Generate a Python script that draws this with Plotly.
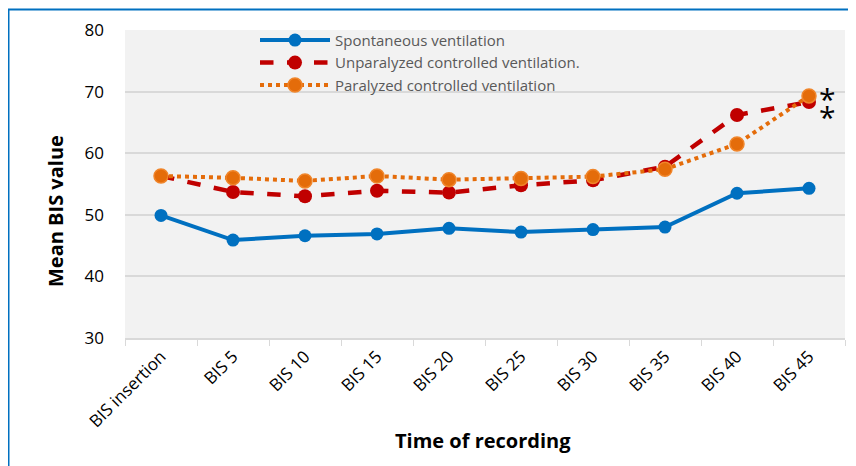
import plotly.graph_objects as go

categories = ["BIS insertion", "BIS 5", "BIS 10", "BIS 15", "BIS 20", "BIS 25",
              "BIS 30", "BIS 35", "BIS 40", "BIS 45"]
spontaneous = [49.9, 45.9, 46.6, 46.9, 47.8, 47.2, 47.6, 48.0, 53.5, 54.3]
unparalyzed = [56.3, 53.7, 53.0, 53.9, 53.6, 54.8, 55.6, 57.8, 66.2, 68.3]
paralyzed = [56.3, 56.0, 55.5, 56.3, 55.7, 55.9, 56.2, 57.4, 61.5, 69.3]
y_ticks = [30, 40, 50, 60, 70, 80]

FONT = "Open Sans"

# page body has an 8px margin: figure is placed at (8, 8)
W, H = 848, 458
L, T, PW, PH = 117, 22, 720, 308

fig = go.Figure()
fig.add_trace(go.Scatter(
    x=categories, y=spontaneous, name="Spontaneous ventilation",
    mode="lines+markers",
    line=dict(color="#0070C0", width=4),
    marker=dict(symbol="circle", size=13, color="#0070C0"),
))
fig.add_trace(go.Scatter(
    x=categories, y=unparalyzed, name="Unparalyzed controlled ventilation.",
    mode="lines+markers",
    line=dict(color="#C00000", width=4.5, dash="dash"),
    marker=dict(symbol="circle", size=14, color="#C00000"),
))
fig.add_trace(go.Scatter(
    x=categories, y=paralyzed, name="Paralyzed controlled ventilation",
    mode="lines+markers",
    line=dict(color="#E46C0A", width=4, dash="dot"),
    marker=dict(symbol="circle", size=14, color="#E46C0A",
                line=dict(color="#F0852A", width=1.5)),
))

for dy in (-18, 0):
    fig.add_annotation(x="BIS 45", y=68.8, xref="x", yref="y", text="*",
                       showarrow=False, xshift=18, yshift=dy,
                       font=dict(family=FONT, size=30, color="#000000"))

# axis titles
fig.add_annotation(xref="paper", yref="paper", x=(47 - L) / PW,
                   y=1 - (203 - T) / PH, xanchor="center", yanchor="middle",
                   text="<b>Mean BIS value</b>",
                   textangle=-90, showarrow=False,
                   font=dict(family=FONT, size=20, color="#000000"))
fig.add_annotation(xref="paper", yref="paper", x=(475 - L) / PW,
                   y=1 - (432 - T) / PH, xanchor="center", yanchor="middle",
                   text="<b>Time of recording</b>",
                   showarrow=False,
                   font=dict(family=FONT, size=20, color="#000000"))

fig.add_shape(type="rect", xref="paper", yref="paper",
              x0=(0.5 - L) / PW, x1=1.2, y0=-0.6, y1=1 + (T - 1.5) / PH,
              line=dict(color="#0070C0", width=2), fillcolor="rgba(0,0,0,0)",
              layer="below")

fig.update_layout(
    width=W, height=H,
    margin=dict(l=L, r=W - L - PW, t=T, b=H - T - PH, autoexpand=False),
    paper_bgcolor="#FFFFFF",
    plot_bgcolor="#F2F2F2",
    font=dict(family=FONT, color="#000000"),
    showlegend=True,
    legend=dict(x=(247 - L) / PW, y=1.02, xanchor="left", yanchor="top",
                bgcolor="rgba(0,0,0,0)", tracegroupgap=0,
                font=dict(family=FONT, size=15, color="#595959"),
                itemwidth=70),
    xaxis=dict(
        type="category", tickangle=-45, tickson="boundaries",
        ticks="outside", ticklen=6, tickcolor="#D9D9D9",
        showline=True, linecolor="#D9D9D9", linewidth=2,
        showgrid=False, tickfont=dict(family=FONT, size=17, color="#000000"),
        range=[-0.5, 9.5],
    ),
    yaxis=dict(
        range=[30, 80], tickvals=y_ticks, showgrid=True, gridcolor="#D9D9D9",
        gridwidth=2, zeroline=False, showline=False,
        tickfont=dict(family=FONT, size=17, color="#000000"),
        ticklabelstandoff=20,
    ),
)

fig.write_html("out.html")
